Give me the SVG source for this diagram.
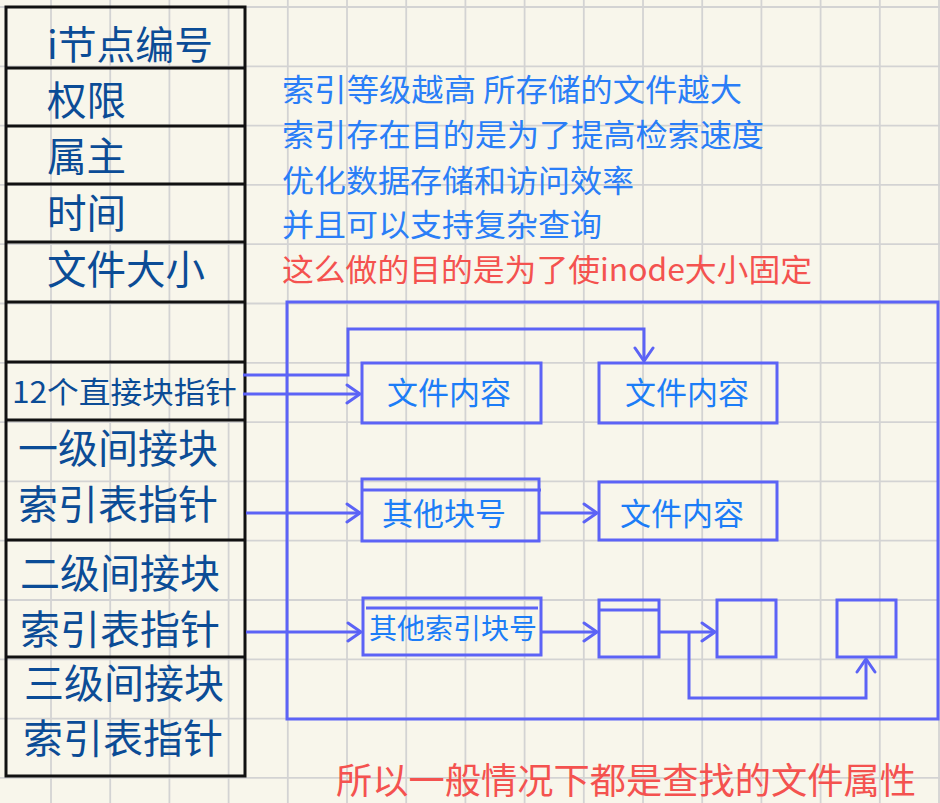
<svg xmlns="http://www.w3.org/2000/svg" width="940" height="803" viewBox="0 0 940 803">
<defs>
<style>
.grid{stroke:#d3d3d3;stroke-width:1.8;fill:none}
.tbl{stroke:#111;stroke-width:3;fill:none}
.tt{font-family:"Noto Sans CJK SC","Noto Sans",sans-serif;fill:#0b4c96}
.note{font-family:"Noto Sans CJK SC","Noto Sans",sans-serif;font-size:31px;fill:#2a7ef7}
.red{font-family:"Noto Sans CJK SC","Noto Sans",sans-serif;fill:#f4524f}
.box{stroke:#5c63f6;stroke-width:3;fill:none}
.bt{font-family:"Noto Sans CJK SC","Noto Sans",sans-serif;font-size:31px;fill:#1c7df7}
.con{stroke:#5c63f6;stroke-width:3;fill:none}
</style>
<marker id="arr" markerUnits="userSpaceOnUse" markerWidth="30" markerHeight="30" viewBox="-15 -15 30 30" refX="0" refY="0" orient="auto">
<path d="M-13,-9 L0,0 L-13,9" fill="none" stroke="#5c63f6" stroke-width="3" stroke-linecap="round" stroke-linejoin="miter"/>
</marker>
</defs>
<rect width="940" height="803" fill="#f8f6eb"/>
<path class="grid" d="M51,0V803M110.2,0V803M169.4,0V803M228.6,0V803M287.8,0V803M347,0V803M406.2,0V803M465.4,0V803M524.6,0V803M583.8,0V803M643,0V803M702.2,0V803M761.4,0V803M820.6,0V803M879.8,0V803M939,0V803M0,7H940M0,66.3H940M0,125.6H940M0,184.9H940M0,244.2H940M0,303.5H940M0,362.8H940M0,422.1H940M0,481.4H940M0,540.7H940M0,600H940M0,659.3H940M0,718.6H940M0,777.9H940"/>

<g id="inode-table">
<rect class="tbl" x="6" y="7" width="239" height="769"/>
<path class="tbl" d="M6,68H245M6,126H245M6,184H245M6,242H245M6,302H245M6,362H245M6,420H245M6,540H245M6,657H245"/>
</g>
<g id="row-inode-number"><text class="tt" x="47" y="59" font-size="39" textLength="166" lengthAdjust="spacingAndGlyphs">i节点编号</text></g>
<g id="row-permission"><text class="tt" x="47" y="115" font-size="39.5">权限</text></g>
<g id="row-owner"><text class="tt" x="47" y="171" font-size="39.5">属主</text></g>
<g id="row-time"><text class="tt" x="47" y="228" font-size="39.5">时间</text></g>
<g id="row-size"><text class="tt" x="47" y="284" font-size="39.5">文件大小</text></g>
<g id="row-empty"></g>
<g id="row-direct"><text class="tt" x="12" y="403" font-size="30" textLength="225" lengthAdjust="spacingAndGlyphs">12个直接块指针</text></g>
<g id="row-single"><text class="tt" x="18" y="463" font-size="40">一级间接块</text><text class="tt" x="18" y="519" font-size="40">索引表指针</text></g>
<g id="row-double"><text class="tt" x="20" y="588" font-size="40">二级间接块</text><text class="tt" x="20" y="644" font-size="40">索引表指针</text></g>
<g id="row-triple"><text class="tt" x="24" y="698" font-size="40">三级间接块</text><text class="tt" x="23" y="753" font-size="40">索引表指针</text></g>

<g id="notes">
<text class="note" x="282" y="101" textLength="460" lengthAdjust="spacingAndGlyphs">索引等级越高 所存储的文件越大</text>
<text class="note" x="282" y="146" textLength="482" lengthAdjust="spacingAndGlyphs">索引存在目的是为了提高检索速度</text>
<text class="note" x="282" y="192" textLength="352" lengthAdjust="spacingAndGlyphs">优化数据存储和访问效率</text>
<text class="note" x="282" y="236" textLength="320" lengthAdjust="spacingAndGlyphs">并且可以支持复杂查询</text>
<text class="red" x="282" y="281" font-size="31" textLength="530" lengthAdjust="spacingAndGlyphs">这么做的目的是为了使inode大小固定</text>
</g>

<g id="container"><rect class="box" x="287" y="302" width="651" height="417"/></g>

<g id="direct-block-1"><rect class="box" x="362" y="363" width="179" height="60"/><text class="bt" x="387" y="404">文件内容</text></g>
<g id="direct-block-2"><rect class="box" x="599" y="363" width="178" height="60"/><text class="bt" x="625" y="404">文件内容</text></g>
<g id="single-index"><rect class="box" x="362" y="479" width="177" height="62"/><line class="box" x1="362" y1="490" x2="541" y2="490"/><text class="bt" x="382" y="525">其他块号</text></g>
<g id="single-data"><rect class="box" x="599" y="482" width="178" height="58"/><text class="bt" x="620" y="525">文件内容</text></g>
<g id="double-index"><rect class="box" x="363" y="598" width="178" height="57"/><line class="box" x1="366" y1="608" x2="538" y2="608"/><text class="bt" x="369" y="639" style="font-size:28px">其他索引块号</text></g>
<g id="double-sub"><rect class="box" x="599" y="600" width="60" height="57"/><line class="box" x1="599" y1="610" x2="659" y2="610"/></g>
<g id="double-leaf-1"><rect class="box" x="717" y="600" width="59" height="57"/></g>
<g id="double-leaf-2"><rect class="box" x="837" y="600" width="59" height="57"/></g>

<g id="connectors">
<path class="con" d="M243,375H348V329H644V361" marker-end="url(#arr)"/>
<path class="con" d="M243,394H360" marker-end="url(#arr)"/>
<path class="con" d="M246,513H360" marker-end="url(#arr)"/>
<path class="con" d="M539,513H597" marker-end="url(#arr)"/>
<path class="con" d="M246,632H361" marker-end="url(#arr)"/>
<path class="con" d="M541,632H597" marker-end="url(#arr)"/>
<path class="con" d="M659,632H715" marker-end="url(#arr)"/>
<path class="con" d="M689,632V698H866V659" marker-end="url(#arr)"/>
</g>

<g id="conclusion"><text class="red" x="336" y="794" font-size="36" textLength="580" lengthAdjust="spacingAndGlyphs">所以一般情况下都是查找的文件属性</text></g>
</svg>
